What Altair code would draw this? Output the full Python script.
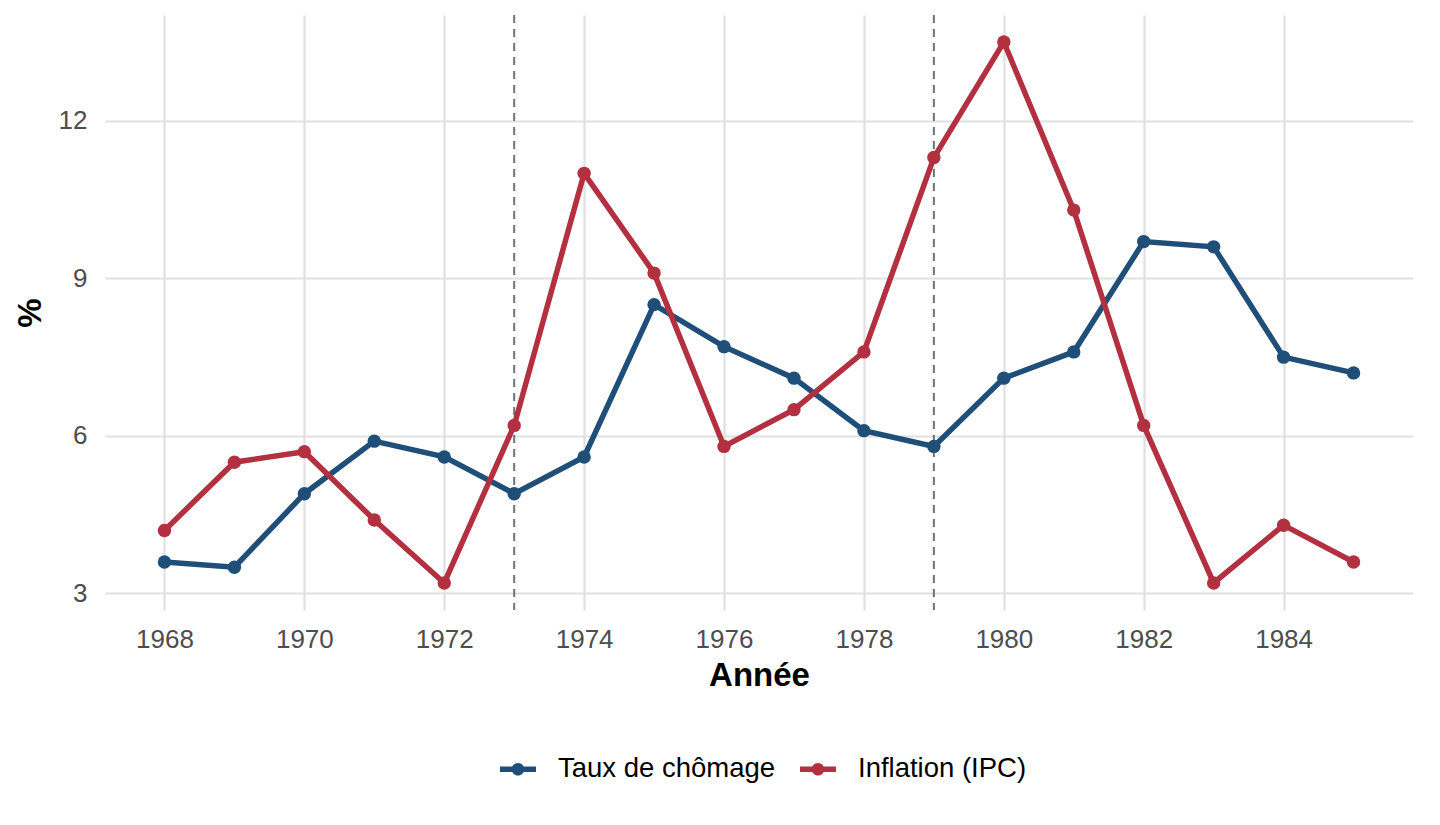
import altair as alt
import pandas as pd

# ---- data ----
years = list(range(1968, 1986))
chomage = [3.6, 3.5, 4.9, 5.9, 5.6, 4.9, 5.6, 8.5, 7.7, 7.1, 6.1, 5.8, 7.1, 7.6, 9.7, 9.6, 7.5, 7.2]
inflation = [4.2, 5.5, 5.7, 4.4, 3.2, 6.2, 11.0, 9.1, 5.8, 6.5, 7.6, 11.3, 13.5, 10.3, 6.2, 3.2, 4.3, 3.6]
series = ["Taux de chômage", "Inflation (IPC)"]
colors = ["#1F4E79", "#B2303F"]
chocs = [1973, 1979]
x_ticks = [1968, 1970, 1972, 1974, 1976, 1978, 1980, 1982, 1984]
y_ticks = [3, 6, 9, 12]

df = pd.DataFrame({
    "annee": years * 2,
    "valeur": chomage + inflation,
    "serie": [series[0]] * len(years) + [series[1]] * len(years),
})
df_chocs = pd.DataFrame({"annee": chocs})

FONT = "Liberation Sans"
W, H = 1308, 595

x_scale = alt.Scale(domain=[1967.15, 1985.85], nice=False, zero=False)
y_scale = alt.Scale(domain=[2.685, 14.015], nice=False, zero=False)
color_scale = alt.Scale(domain=series, range=colors)

x_axis = alt.Axis(
    values=x_ticks, format="d", title="Année", ticks=False, tickSize=0, domain=False,
    labelPadding=16, labelFontSize=26, labelColor="#4D4D4D", labelFont=FONT,
    titleFont=FONT, titleFontSize=33, titleFontWeight="bold", titleColor="#000000",
    titleY=65, titleBaseline="middle",
    grid=True, gridColor="#E0E0E0", gridWidth=2.2,
)
y_axis = alt.Axis(
    values=y_ticks, title="%", ticks=False, tickSize=0, domain=False,
    labelPadding=18, labelFontSize=26, labelColor="#4D4D4D", labelFont=FONT,
    titleFont=FONT, titleFontSize=33, titleFontWeight="bold", titleColor="#000000",
    titleX=-75, titleY=H / 2, titleAngle=270, titleAlign="center", titleBaseline="middle",
    grid=True, gridColor="#E0E0E0", gridWidth=2.2,
)

legend_symbol = (
    "M-1,-0.15 L-0.3,-0.15 L-0.3,0.15 L-1,0.15 Z "
    "M0.3,-0.15 L1,-0.15 L1,0.15 L0.3,0.15 Z "
    "M-0.35,0 A0.35,0.35 0 1,1 0.35,0 A0.35,0.35 0 1,1 -0.35,0 Z"
)

legend = alt.Legend(
    title=None, orient="none", direction="horizontal",
    legendX=395, legendY=736,
    symbolType=legend_symbol, symbolSize=1296, symbolStrokeWidth=0,
    symbolOpacity=1,
    labelFont=FONT, labelFontSize=27.5, labelColor="#000000", labelLimit=500,
    labelOffset=22, columnPadding=24,
)

color_enc = alt.Color("serie:N", scale=color_scale, sort=series, legend=legend)

base = alt.Chart(df)

rules = alt.Chart(df_chocs).mark_rule(
    color="#6E737A", strokeWidth=2, strokeDash=[8, 6]
).encode(x=alt.X("annee:Q", scale=x_scale, axis=x_axis))

lines = base.mark_line(strokeWidth=5.5).encode(
    x=alt.X("annee:Q", scale=x_scale, axis=x_axis),
    y=alt.Y("valeur:Q", scale=y_scale, axis=y_axis),
    color=color_enc,
)

points = base.mark_point(filled=True, size=180, opacity=1).encode(
    x=alt.X("annee:Q", scale=x_scale, axis=x_axis),
    y=alt.Y("valeur:Q", scale=y_scale, axis=y_axis),
    color=color_enc,
)

chart = alt.layer(rules, lines, points).properties(
    width=W, height=H,
    background="white",
    autosize=alt.AutoSizeParams(type="none"),
    padding={"left": 97, "top": 7, "right": 19, "bottom": 215},
).configure_view(stroke=None, strokeWidth=0)

chart.save("out.html", embed_options={"renderer": "svg", "actions": False})
